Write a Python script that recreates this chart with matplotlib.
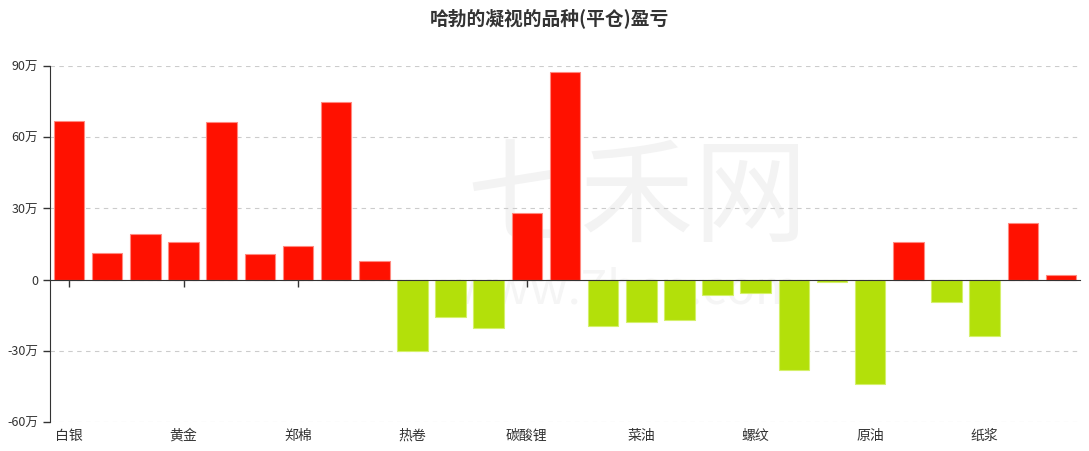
import matplotlib
matplotlib.use("Agg")
import matplotlib.pyplot as plt
import numpy as np

plt.rcParams['font.family'] = ['Noto Sans CJK SC', 'DejaVu Sans']

# 品种 (每三个显示一个标签)
categories = ['白银', '', '', '黄金', '', '', '郑棉', '', '', '热卷', '', '', '碳酸锂', '', '',
              '菜油', '', '', '螺纹', '', '', '原油', '', '', '纸浆', '', '']
# 平仓盈亏 (万)
profits = [66.7, 11.1, 19.3, 15.7, 66.4, 10.6, 14.1, 74.8, 8.0, -30.1, -15.8, -20.4, 27.9, 87.5,
           -19.5, -17.8, -17.2, -6.6, -5.7, -38.0, -1.1, -44.0, 15.8, -9.5, -23.8, 23.8, 2.0]
yticks = [-60, -30, 0, 30, 60, 90]

red = '#FF1100'
green = '#B3E00A'

fig = plt.figure(figsize=(10.89, 4.51), dpi=100)
ax = fig.add_axes([50 / 1089, 1 - 422 / 451, 1030 / 1089, 356 / 451])

x = np.arange(len(profits))
vals = np.array(profits)
colors = [red if v >= 0 else green for v in vals]
edges = ['#FF8A80' if v >= 0 else '#D4F06A' for v in vals]
ax.bar(x, vals, width=0.8, color=colors, edgecolor=edges, linewidth=0.8, zorder=3)

# watermark
ax.text(0.57, 0.62, '七禾网', transform=ax.transAxes, fontsize=82, color='#f3f3f3',
        ha='center', va='center', zorder=1)
ax.text(0.56, 0.37, 'www.7hcn.com', transform=ax.transAxes, fontsize=34, color='#f5f5f5',
        ha='center', va='center', zorder=1)

ax.set_xlim(-0.5, len(profits) - 0.5)
ax.set_ylim(-60, 90)
ax.set_yticks(yticks)
ax.set_yticklabels([f'{t}万' if t != 0 else '0' for t in yticks], fontsize=9, color='#333333')
ax.yaxis.grid(True, linestyle=(0, (4, 4)), color='#cccccc', linewidth=0.8, zorder=0)
ax.tick_params(axis='y', length=5, color='#333333', width=1)

for s in ['top', 'right']:
    ax.spines[s].set_visible(False)
ax.spines['left'].set_color('#333333')
ax.spines['bottom'].set_position(('data', 0))
ax.spines['bottom'].set_color('#333333')
ax.spines['bottom'].set_zorder(4)

labeled = [i for i, c in enumerate(categories) if c]
ax.set_xticks(labeled)
ax.tick_params(axis='x', length=5, color='#333333', width=1, labelbottom=False)

sec = ax.secondary_xaxis('bottom')
sec.set_xticks(labeled)
sec.set_xticklabels([categories[i] for i in labeled], fontsize=10, color='#333333')
sec.tick_params(length=0, pad=5)
sec.spines['bottom'].set_visible(False)

fig.text(549 / 1089, 1 - 18 / 451, '哈勃的凝视的品种(平仓)盈亏', ha='center', va='center',
         fontsize=13.5, fontweight='bold', color='#333333')

fig.savefig('out.png', dpi=100)
